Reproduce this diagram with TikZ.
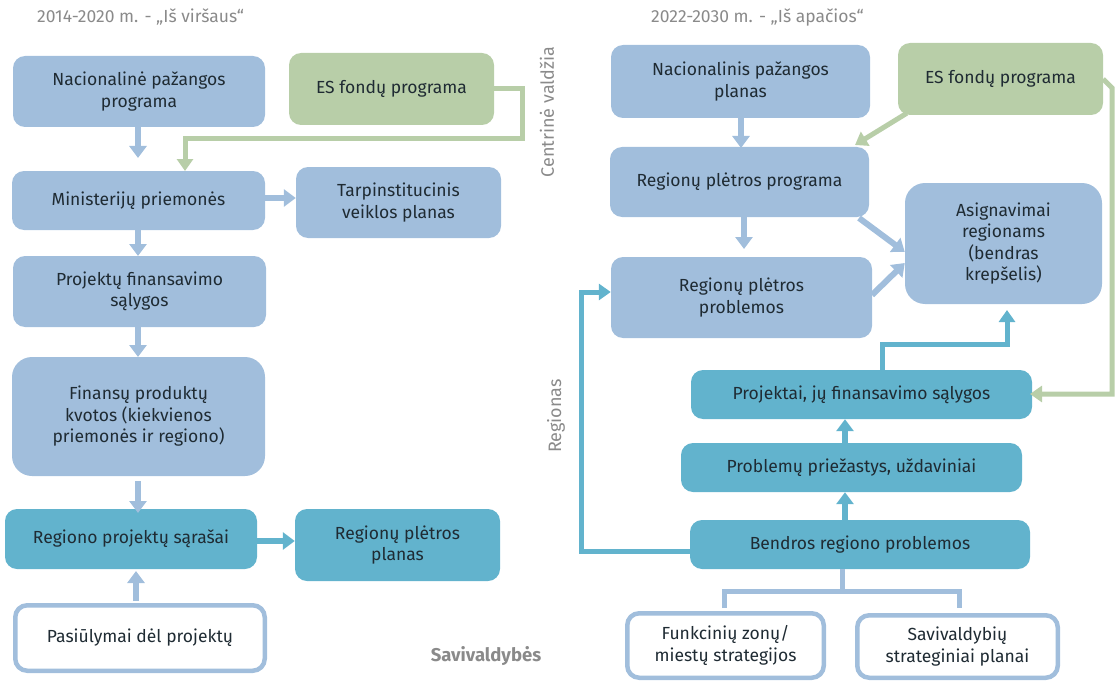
\documentclass[tikz,border=0pt]{standalone}
\usepackage{fontspec}
\setmainfont{Fira Sans}
\usetikzlibrary{arrows.meta}
\definecolor{lb}{HTML}{A1BEDC}
\definecolor{gr}{HTML}{B8CEA8}
\definecolor{tl}{HTML}{62B3CD}
\definecolor{tx}{HTML}{1F2B33}
\definecolor{lbl}{HTML}{8A8A8A}
\tikzset{
  box/.style={rounded corners=12pt, inner sep=0pt, align=center, text=tx,
    font=\fontsize{17.5}{21.5}\selectfont},
  bluebox/.style={box, fill=lb},
  greenbox/.style={box, fill=gr},
  tealbox/.style={box, fill=tl},
  whitebox/.style={box, fill=white, draw=lb, line width=4.5pt},
  arr/.style={line width=6pt, -{Triangle[width=17pt,length=12pt]}},
  barr/.style={arr, draw=lb},
  tarr/.style={arr, draw=tl},
  garr/.style={line width=5pt, draw=gr, -{Triangle[width=16pt,length=12pt]}},
  tline/.style={line width=5pt, draw=tl, -{Triangle[width=16pt,length=12pt]}},
  bline/.style={line width=5pt, draw=lb},
  lab/.style={text=lbl, font=\fontsize{17}{20}\selectfont, inner sep=0pt}
}
\begin{document}
\begin{tikzpicture}[x=1pt,y=-1pt]
\useasboundingbox (0,0) rectangle (1116,682);

% titles and side labels
\node[lab, anchor=west, font=\fontsize{17.5}{20}\selectfont\mdseries] (t1) at (37,17) {2014-2020 m. - „Iš viršaus“};
\node[lab, anchor=west, font=\fontsize{17.5}{20}\selectfont] (t2) at (651,17) {2022-2030 m. - „Iš apačios“};
\node[lab, rotate=90, font=\fontsize{18}{20}\selectfont] (cv) at (547,112) {Centrinė valdžia};
\node[lab, rotate=90, font=\fontsize{18}{20}\selectfont] (rg) at (556,416) {Regionas};
\node[lab, font=\fontsize{18.5}{20}\selectfont\bfseries] (sv) at (486,656) {Savivaldybės};

% left column
\node[bluebox, minimum width=252pt, minimum height=71pt] (nac1) at (139,91.5) {Nacionalinė pažangos\\programa};
\node[greenbox, minimum width=205pt, minimum height=72pt] (es1) at (391.5,89) {ES fondų programa};
\node[bluebox, minimum width=253pt, minimum height=59pt] (min) at (138.5,200.5) {Ministerijų priemonės};
\node[bluebox, minimum width=205pt, minimum height=71pt] (tarp) at (398.5,202.5) {Tarpinstitucinis\\veiklos planas};
\node[bluebox, minimum width=253pt, minimum height=71pt] (proj) at (139.5,291.5) {Projektų finansavimo\\sąlygos};
\node[bluebox, rounded corners=20pt, minimum width=253pt, minimum height=119pt] (fin) at (138.5,416.5) {Finansų produktų\\kvotos (kiekvienos\\priemonės ir regiono)};
\node[tealbox, minimum width=252pt, minimum height=60pt] (reg) at (131,539) {Regiono projektų sąrašai};
\node[tealbox, minimum width=205pt, minimum height=72pt] (planas) at (397.5,545) {Regionų plėtros\\planas};
\node[whitebox, minimum width=249.5pt, minimum height=65.5pt] (pas) at (140,638) {Pasiūlymai dėl projektų};

% right column
\node[bluebox, minimum width=259pt, minimum height=73pt] (nac2) at (740.5,81.5) {Nacionalinis pažangos\\planas};
\node[greenbox, minimum width=205pt, minimum height=72pt] (es2) at (1000.5,79) {ES fondų programa};
\node[bluebox, minimum width=259pt, minimum height=70pt] (rpp) at (739.5,182) {Regionų plėtros programa};
\node[bluebox, rounded corners=20pt, minimum width=197pt, minimum height=121pt] (asig) at (1003.5,243.5) {Asignavimai\\regionams\\(bendras\\krepšelis)};
\node[bluebox, minimum width=261pt, minimum height=81pt] (rppr) at (741.5,297.5) {Regionų plėtros\\problemos};
\node[tealbox, minimum width=341pt, minimum height=49pt] (pjk) at (861.5,394.5) {Projektai, jų finansavimo sąlygos};
\node[tealbox, minimum width=341pt, minimum height=49pt] (prb) at (851.5,467.5) {Problemų priežastys, uždaviniai};
\node[tealbox, minimum width=340pt, minimum height=49pt] (bnd) at (860,544.5) {Bendros regiono problemos};
\node[whitebox, minimum width=196.5pt, minimum height=64.5pt] (fnk) at (725.5,645.5) {Funkcinių zonų/\\miestų strategijos};
\node[whitebox, minimum width=200.5pt, minimum height=62.5pt] (svp) at (957.5,646.5) {Savivaldybių\\strateginiai planai};

% left connectors
\draw[barr] (nac1.south -| 138,0) -- (138,158);
\draw[garr] (es1.east) -- (522,89) -- (522,139) -- (185,139) -- (185,171);
\draw[barr] (min.east |- 0,198) -- (tarp.west |- 0,198);
\draw[barr] (min.south -| 138,0) -- (138,256);
\draw[barr] (proj.south -| 138,0) -- (138,357);
\draw[barr] (fin.south -| 138,0) ++(0,5) -- (138,513);
\draw[tarr] (reg.east |- 0,541) -- (planas.west |- 0,541);
\draw[barr] (pas.north -| 136,0) ++(0,-2) -- (136,571);

% right connectors
\draw[barr] (nac2.south -| 741,0) -- (741,148);
\draw[barr] (rpp.south -| 744,0) -- (744,249);
\draw[garr] (es2.south west) ++(9,-2) -- (855,145);
\draw[barr] (859,218) -- (asig.west |- 0,252);
\draw[barr] (872,295) -- (asig.west |- 0,263);
\draw[tline] (bnd.west |- 0,551) -- (581,551) -- (581,292) -- (rppr.west |- 0,292);
\draw[tline] (pjk.north -| 882,0) -- (882,344) -- (1007,344) -- (1007,310);
\draw[garr] (es2.east) -- (1112,88) -- (1112,394) -- (1030,394);
\draw[tarr] (prb.north -| 845,0) -- (pjk.south -| 845,0);
\draw[tarr] (bnd.north -| 845,0) -- (prb.south -| 845,0);
\draw[bline] (bnd.south -| 842,0) -- (842,591);
\draw[bline] (fnk.north -| 724,0) ++(0,-3) -- (724,591) -- (959,591) -- (959,608);
\end{tikzpicture}
\end{document}
